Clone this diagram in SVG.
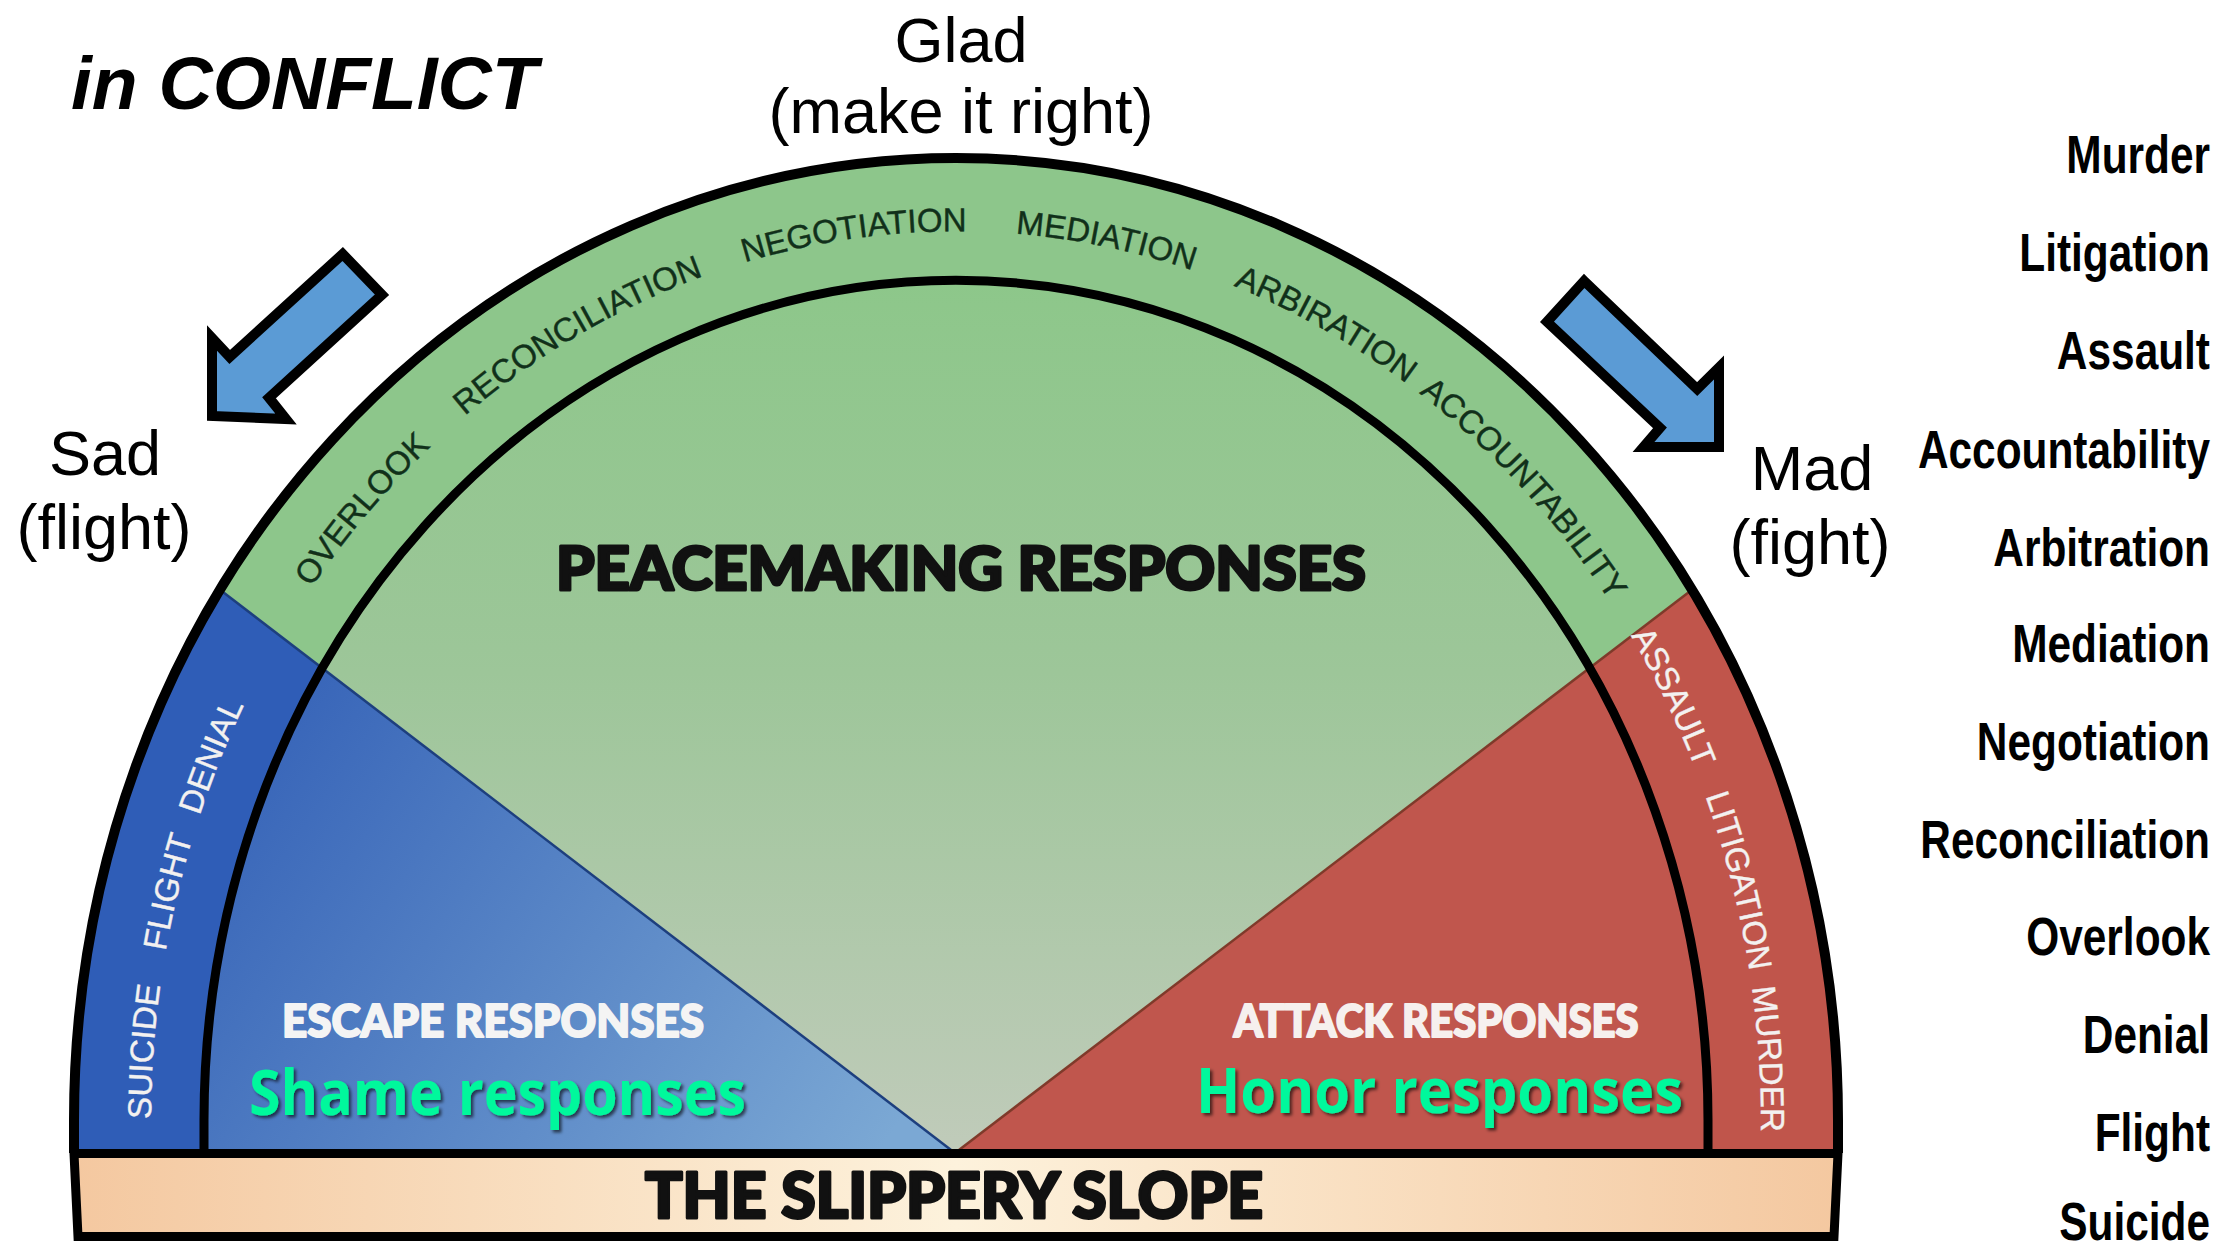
<svg xmlns="http://www.w3.org/2000/svg" xmlns:xlink="http://www.w3.org/1999/xlink" width="2228" height="1253" viewBox="0 0 2228 1253">
<style>
.lbl{font-family:"Liberation Sans",Arial,sans-serif;fill:#000}
.title{font-family:"Liberation Sans",Arial,sans-serif;font-weight:bold;font-style:italic;font-size:75px;fill:#000}
.emo{font-family:"Liberation Sans",Arial,sans-serif;font-size:63px;fill:#000;text-anchor:middle}
.list{font-family:"Liberation Sans",Arial,sans-serif;font-weight:bold;font-size:53px;fill:#000;text-anchor:end}
.band{font-family:"Liberation Sans",Arial,sans-serif;font-size:33px;text-anchor:middle}
.gband{fill:#11301a;stroke:#11301a;stroke-width:0.4}
.wband{fill:#f3f1f0;stroke:#f3f1f0;stroke-width:0.4}
.heavy{font-family:Lato,"Open Sans","Liberation Sans",sans-serif;font-weight:900;text-anchor:middle;stroke-linejoin:round}
.sub{font-family:"Open Sans","Liberation Sans",sans-serif;font-weight:700;font-size:63px;fill:#00f89c;filter:url(#shadow)}
.arrow{fill:#5b9bd5;stroke:#000;stroke-width:10;stroke-linejoin:miter;stroke-miterlimit:10}
.rim{fill:none;stroke:#000}
</style>
<defs>
<linearGradient id="gInner" x1="0" y1="280" x2="0" y2="1153" gradientUnits="userSpaceOnUse">
<stop offset="0" stop-color="#8dc78a"/>
<stop offset="0.45" stop-color="#9dc699"/>
<stop offset="1" stop-color="#c0cbba"/>
</linearGradient>
<linearGradient id="bInner" x1="230" y1="700" x2="880" y2="1150" gradientUnits="userSpaceOnUse">
<stop offset="0" stop-color="#3461b7"/>
<stop offset="1" stop-color="#7ba8d4"/>
</linearGradient>
<linearGradient id="bar" x1="74" y1="0" x2="1838" y2="0" gradientUnits="userSpaceOnUse">
<stop offset="0" stop-color="#f4c8a0"/>
<stop offset="0.5" stop-color="#fdf2dc"/>
<stop offset="1" stop-color="#f4c8a0"/>
</linearGradient>
<clipPath id="clipOuter"><path d="M74,1160 L74,1120 A882 962 0 0 1 1838,1120 L1838,1160 Z"/></clipPath>
<clipPath id="clipInner"><path d="M204,1160 L204,1120 A752 840 0 0 1 1708,1120 L1708,1160 Z"/></clipPath>
<path id="arcPath" d="M151,1160 L151,1120 A805 889 0 0 1 1761,1120 L1761,1160"/>
<filter id="shadow" x="-5%" y="-20%" width="110%" height="140%">
<feDropShadow dx="2.5" dy="2.5" stdDeviation="1.5" flood-color="#000" flood-opacity="0.6"/>
</filter>
</defs>

<g id="title"><text class="title" x="71" y="109">in CONFLICT</text></g>

<g id="glad"><text class="emo" x="961" y="62" font-size="65">Glad</text><text class="emo" x="961" y="133" font-size="63">(make it right)</text></g>
<g id="sad"><text class="emo" x="105" y="475" font-size="62">Sad</text><text class="emo" x="104" y="549" font-size="62">(flight)</text></g>
<g id="mad"><text class="emo" x="1812" y="490" font-size="63">Mad</text><text class="emo" x="1810" y="564" font-size="62">(fight)</text></g>

<g id="arrow-left"><polygon class="arrow" points="342.7,254 382,294.7 269,397.7 286,419 212,416 212,338 229.7,357"/></g>
<g id="arrow-right"><polygon class="arrow" points="1584.2,281 1697.2,389 1719,367.4 1719,447 1643.5,447 1660,427.8 1547,321.8"/></g>

<g id="slope-diagram">
<g id="outer-band" clip-path="url(#clipOuter)">
<rect x="0" y="100" width="1912" height="1060" fill="#8dc68b"/>
<polygon points="955,1153 0,421.5 0,1160" fill="#2f5db7"/>
<polygon points="955,1153 1912,421.5 1912,1160" fill="#c0554b"/>
</g>
<g id="inner-area" clip-path="url(#clipInner)">
<rect x="0" y="200" width="1912" height="960" fill="url(#gInner)"/>
<polygon points="955,1153 0,421.5 0,1160" fill="url(#bInner)"/>
<polygon points="955,1153 1912,421.5 1912,1160" fill="#c0564d"/>
</g>
<line x1="955" y1="1153" x2="219" y2="589" stroke="#1d3f7e" stroke-width="2.5"/>
<line x1="955" y1="1153" x2="1693" y2="589" stroke="#7f3a2a" stroke-width="2.5"/>
<path class="rim" stroke-width="9" d="M204,1153 L204,1120 A752 840 0 0 1 1708,1120 L1708,1153"/>
<path class="rim" stroke-width="10" d="M74,1153 L74,1120 A882 962 0 0 1 1838,1120 L1838,1153"/>
</g>

<g id="band-labels">
<text class="band wband"><textPath href="#arcPath" startOffset="108">SUICIDE</textPath></text>
<text class="band wband"><textPath href="#arcPath" startOffset="268">FLIGHT</textPath></text>
<text class="band wband"><textPath href="#arcPath" startOffset="409">DENIAL</textPath></text>
<text class="band gband"><textPath href="#arcPath" startOffset="697">OVERLOOK</textPath></text>
<text class="band gband"><textPath href="#arcPath" startOffset="974">RECONCILIATION</textPath></text>
<text class="band gband"><textPath href="#arcPath" startOffset="1269">NEGOTIATION</textPath></text>
<text class="band gband"><textPath href="#arcPath" startOffset="1521">MEDIATION</textPath></text>
<text class="band gband"><textPath href="#arcPath" startOffset="1755">ARBIRATION</textPath></text>
<text class="band gband"><textPath href="#arcPath" startOffset="2012">ACCOUNTABILITY</textPath></text>
<text class="band wband"><textPath href="#arcPath" startOffset="2268">ASSAULT</textPath></text>
<text class="band wband"><textPath href="#arcPath" startOffset="2462">LITIGATION</textPath></text>
<text class="band wband"><textPath href="#arcPath" startOffset="2641">MURDER</textPath></text>
</g>

<g id="peacemaking"><text class="heavy" x="961" y="590" font-size="60" fill="#111" stroke="#111" stroke-width="3" textLength="810" lengthAdjust="spacingAndGlyphs">PEACEMAKING RESPONSES</text></g>
<g id="escape">
<text class="heavy" x="493" y="1037" font-size="46" fill="#f4f4f4" stroke="#f4f4f4" stroke-width="2" textLength="422" lengthAdjust="spacingAndGlyphs">ESCAPE RESPONSES</text>
<text class="sub" x="249" y="1115" textLength="497" lengthAdjust="spacingAndGlyphs">Shame responses</text>
</g>
<g id="attack">
<text class="heavy" x="1436" y="1037" font-size="46" fill="#f6f0ee" stroke="#f6f0ee" stroke-width="2" textLength="405" lengthAdjust="spacingAndGlyphs">ATTACK RESPONSES</text>
<text class="sub" x="1196" y="1113" textLength="487" lengthAdjust="spacingAndGlyphs">Honor responses</text>
</g>

<g id="slippery-slope">
<path d="M74,1153.5 L1838,1153.5 L1834,1236.5 L78,1236.5 Z" fill="url(#bar)" stroke="#000" stroke-width="9" stroke-linejoin="miter"/>
<text class="heavy" x="954" y="1218" font-size="62" fill="#111" stroke="#111" stroke-width="3" textLength="618" lengthAdjust="spacingAndGlyphs">THE SLIPPERY SLOPE</text>
</g>

<g id="scale-list">
<g transform="translate(2210,173) scale(0.8,1)"><text class="list">Murder</text></g>
<g transform="translate(2210,271) scale(0.8,1)"><text class="list">Litigation</text></g>
<g transform="translate(2210,369) scale(0.8,1)"><text class="list">Assault</text></g>
<g transform="translate(2210,468) scale(0.8,1)"><text class="list">Accountability</text></g>
<g transform="translate(2210,566) scale(0.8,1)"><text class="list">Arbitration</text></g>
<g transform="translate(2210,662) scale(0.8,1)"><text class="list">Mediation</text></g>
<g transform="translate(2210,760) scale(0.8,1)"><text class="list">Negotiation</text></g>
<g transform="translate(2210,858) scale(0.8,1)"><text class="list">Reconciliation</text></g>
<g transform="translate(2210,955) scale(0.8,1)"><text class="list">Overlook</text></g>
<g transform="translate(2210,1053) scale(0.8,1)"><text class="list">Denial</text></g>
<g transform="translate(2210,1151) scale(0.8,1)"><text class="list">Flight</text></g>
<g transform="translate(2210,1240) scale(0.8,1)"><text class="list">Suicide</text></g>
</g>
</svg>
